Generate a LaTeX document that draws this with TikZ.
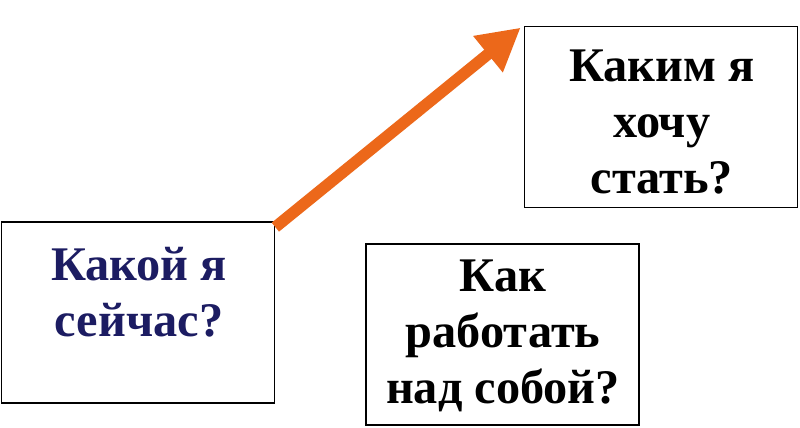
\documentclass[tikz,border=0pt]{standalone}
\usepackage{fontspec}
\setmainfont{Liberation Serif}
\usetikzlibrary{arrows.meta}
\definecolor{arroworange}{RGB}{236,104,26}
\definecolor{navytext}{RGB}{28,28,98}
\tikzset{
	qbox/.style={draw=black, line width=1pt, fill=white, minimum width=5.46cm, minimum height=3.62cm, inner sep=0pt},
	qtext/.style={align=center, font=\fontsize{27.5}{32}\selectfont\bfseries, inner sep=0pt},
	growth/.style={line width=6.6pt, color=arroworange, -{Triangle[length=24pt, width=25pt]}}
}

\begin{document}
\begin{tikzpicture}[x=0.02cm, y=-0.02cm]
			%%%%% START %%%%%
			
			\useasboundingbox[fill=white] (0, 0) rectangle (800, 428);
			
			\node[qbox] (now) at (138, 312.5) {};
			\node[qbox] (goal) at (661, 117) {};
			\node[qbox] (how) at (502.5, 334.5) {};
			
			\node[qtext, text=navytext] (nowtext) at (139, 292) {Какой я\\сейчас?};
			\node[qtext] (goaltext) at (662, 122) {Каким я\\хочу\\стать?};
			\node[qtext] (howtext) at (503, 336) {Как\\работать\\над собой?};
			
			\draw[growth] ([shift={(0, 6)}]now.north east) -- ([shift={(-3, 2)}]goal.north west);
			
			%%%%% END %%%%%
\end{tikzpicture}
\end{document}
